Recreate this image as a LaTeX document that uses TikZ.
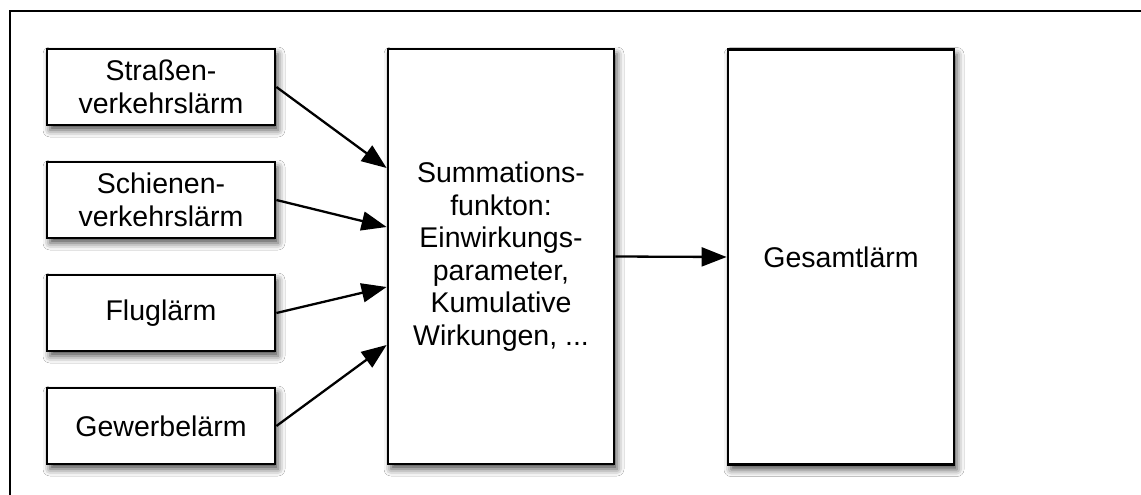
\documentclass[tikz,border=0pt]{standalone}
\usepackage{fontspec}
\setmainfont{Liberation Sans}
\usetikzlibrary{arrows.meta,shadows.blur}
\begin{document}
\begin{tikzpicture}[x=1pt,y=-1pt,
  box/.style={draw=black,line width=2.8pt,fill=white,align=center,
    inner sep=0pt,
    font=\fontsize{28.5}{32.5}\selectfont,
    blur shadow={shadow xshift=3pt,shadow yshift=-5pt,shadow blur radius=7pt,shadow opacity=70}},
  small/.style={box,minimum width=228pt,minimum height=76pt},
  big/.style={box,minimum width=226pt,minimum height=415pt},
  conn/.style={line width=2.3pt,-{Triangle[length=25pt,width=19pt]}},
  frame/.style={line width=2.6pt}]
\useasboundingbox (0,0) rectangle (1141,495);
\fill[white] (0,0) rectangle (1141,495);
\coordinate (fa) at (1141,11);
\coordinate (fb) at (10,11);
\coordinate (fc) at (10,495);
\draw[frame] (fa) -- (fb) -- (fc);

\node[small] (s1) at (161,87) {Straßen-\\verkehrslärm};
\node[small] (s2) at (161,200) {Schienen-\\verkehrslärm};
\node[small] (s3) at (161,313) {Fluglärm};
\node[small] (s4) at (161,426) {Gewerbelärm};
\node[big] (sum) at (501,256.5) {Summations-\\funkton:\\Einwirkungs-\\parameter,\\Kumulative\\Wirkungen, ...};
\node[big] (ges) at (841,257) {Gesamtlärm};

\draw[conn] (s1.east) -- ([yshift=88.5pt]sum.west);
\draw[conn] (s2.east) -- ([yshift=29.5pt]sum.west);
\draw[conn] (s3.east) -- ([yshift=-30.5pt]sum.west);
\draw[conn] (s4.east) -- ([yshift=-88.5pt]sum.west);
\draw[conn] (sum.east) -- (ges.west);
\end{tikzpicture}
\end{document}
